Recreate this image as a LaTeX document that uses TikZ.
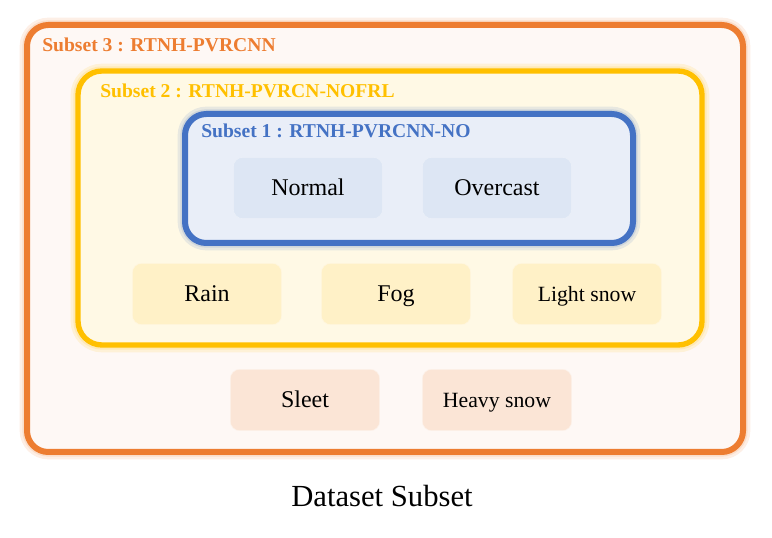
\documentclass[tikz,border=0pt]{standalone}
\usepackage{fontspec}
\setmainfont{Liberation Serif}
\usepackage{tikz}
\usetikzlibrary{backgrounds,fit}

\definecolor{sorange}{HTML}{ED7D31}
\definecolor{syellow}{HTML}{FFC000}
\definecolor{sblue}{HTML}{4472C4}

\begin{document}
\begin{tikzpicture}[x=0.75pt,y=-0.75pt,
    frame/.style={rounded corners=16pt},
    glow/.style={preaction={draw=#1, line width=11pt, opacity=0.12},
                 preaction={draw=#1, line width=7pt, opacity=0.15}},
    cond/.style={rounded corners=7pt, minimum width=112pt, minimum height=46pt,
                 inner sep=0pt, text height=12pt, text depth=0pt,
                 font=\fontsize{18}{20}\selectfont},
    tag/.style={anchor=west, inner sep=0pt, font=\fontsize{14.7}{16}\selectfont\bfseries}]
  \useasboundingbox (0,0) rectangle (772,538);
  % subset 3
  \draw[frame, glow=sorange, draw=sorange, line width=4.5pt, fill=sorange!5] (27,25) rectangle (743,452);
      \draw (42,45) node[tag, text=sorange] (s3) {Subset 3 : RTNH-PVRCNN};
  % subset 2
  \draw[frame, rounded corners=18pt, glow=syellow, draw=syellow, line width=4pt, fill=syellow!10] (78,71) rectangle (702,345);
      \draw (100,91) node[tag, text=syellow] (s2) {Subset 2 : RTNH-PVRCN-NOFRL};
  % subset 1
  \draw[frame, glow=sblue, draw=sblue, line width=4.5pt, fill=sblue!12] (185,114) rectangle (633,243);
      \draw (201,131) node[tag, text=sblue] (s1) {Subset 1 : RTNH-PVRCNN-NO};
  % weather conditions
  \draw (308,188) node[cond, fill=sblue!18, draw=sblue!10] (normal) {Normal};
  \draw (497,188) node[cond, fill=sblue!18, draw=sblue!10] (overcast) {Overcast};
      \draw (207,294) node[cond, fill=syellow!22, draw=syellow!12] (rain) {Rain};
      \draw (396,294) node[cond, fill=syellow!22, draw=syellow!12] (fog) {Fog};
      \draw (587,294) node[cond, fill=syellow!22, draw=syellow!12, font=\fontsize{16.3}{18}\selectfont] (lightsnow) {Light snow};
  \draw (305,400) node[cond, fill=sorange!20, draw=sorange!10] (sleet) {Sleet};
  \draw (497,400) node[cond, fill=sorange!20, draw=sorange!10, font=\fontsize{16.3}{18}\selectfont] (heavysnow) {Heavy snow};
  \draw (382,496) node[font=\fontsize{23}{26}\selectfont] (title) {Dataset Subset};
\end{tikzpicture}
\end{document}
